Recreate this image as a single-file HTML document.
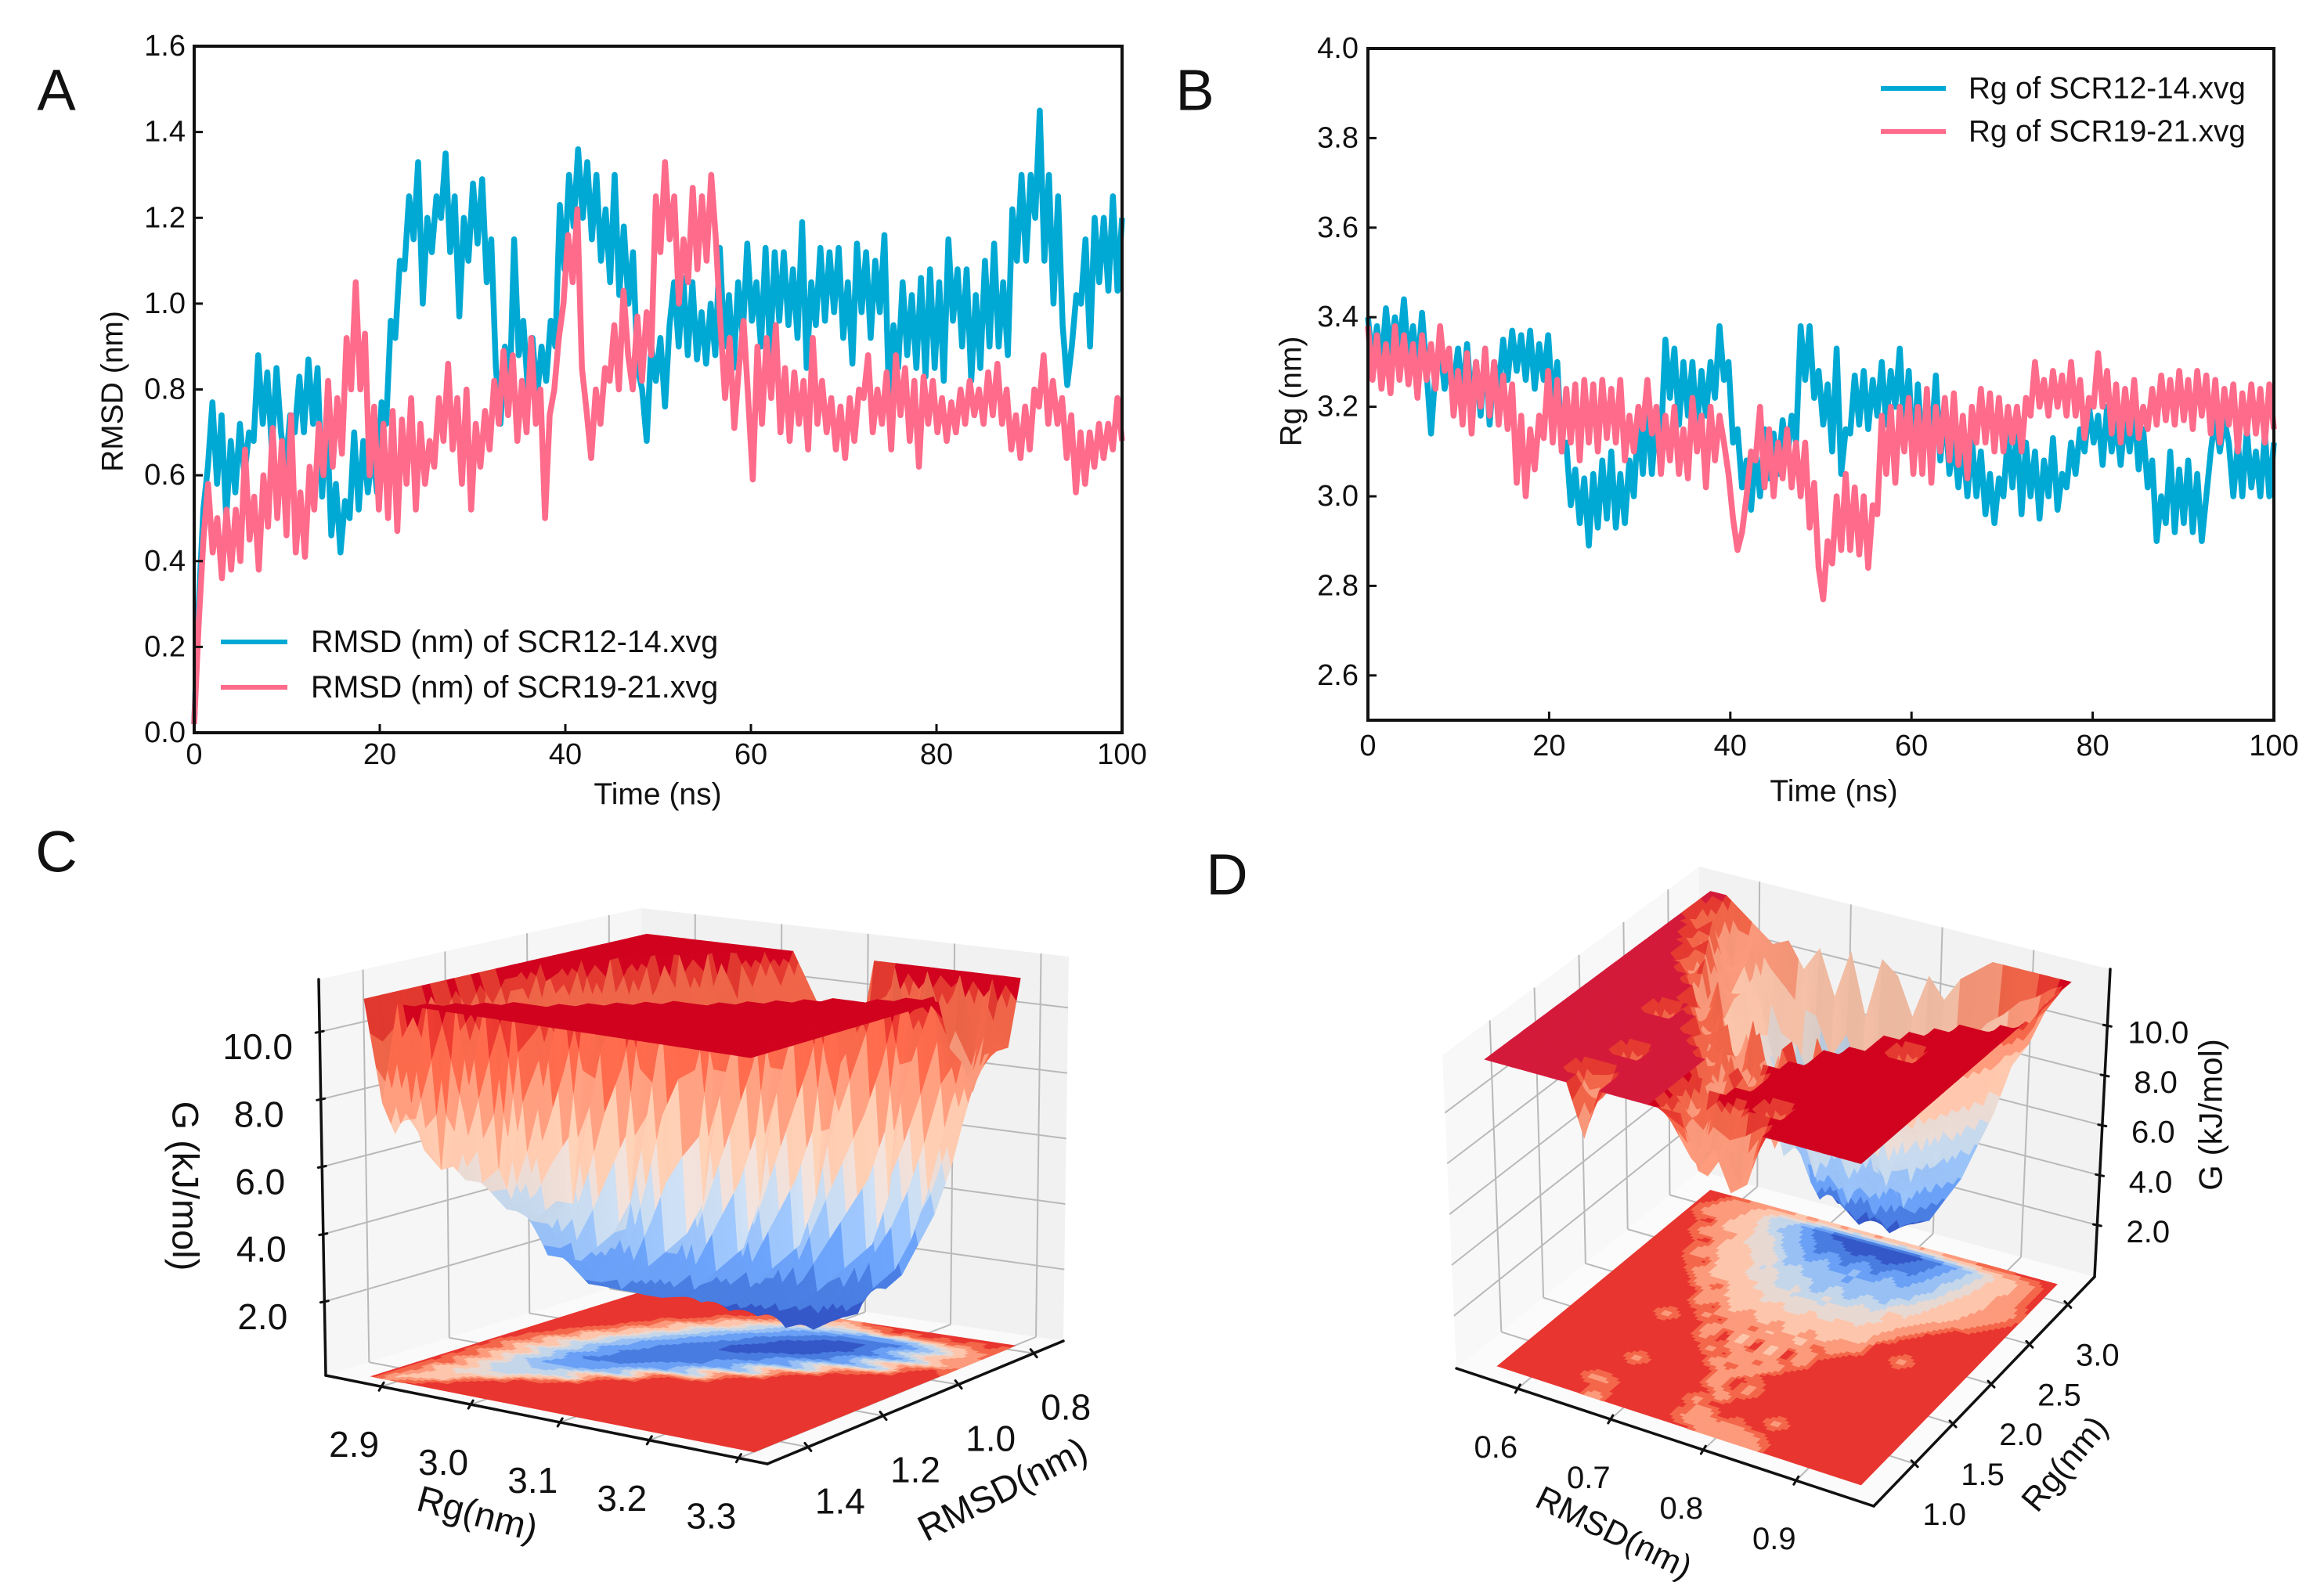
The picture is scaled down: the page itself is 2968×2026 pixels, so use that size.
<!DOCTYPE html>
<html lang="en">
<head>
<meta charset="utf-8">
<title>RMSD, Rg and free energy landscapes</title>
<style>
html,body{margin:0;padding:0;background:#fff;width:2968px;height:2026px;overflow:hidden}
svg{display:block}
text{font-family:"Liberation Sans",Arial,sans-serif;fill:#111}
</style>
</head>
<body>
<svg id="fig" xmlns="http://www.w3.org/2000/svg" width="2968" height="2026" viewBox="0 0 2968 2026">
<rect x="0" y="0" width="2968" height="2026" fill="#fff"/>
<text x="72" y="115" font-size="74" text-anchor="middle" dominant-baseline="central">A</text>
<text x="1526" y="115" font-size="74" text-anchor="middle" dominant-baseline="central">B</text>
<text x="72" y="1088" font-size="74" text-anchor="middle" dominant-baseline="central">C</text>
<text x="1567" y="1117" font-size="74" text-anchor="middle" dominant-baseline="central">D</text>

<g id="chartA"></g>
<g id="chartB"></g>
<g id="chartC"></g>
<g id="chartD"></g>

<text x="840" y="1015" font-size="39" text-anchor="middle" dominant-baseline="central">Time (ns)</text>
<text transform="translate(144 500) rotate(-90)" font-size="39" text-anchor="middle" dominant-baseline="central">RMSD (nm)</text>
<text x="2342" y="1011" font-size="39" text-anchor="middle" dominant-baseline="central">Time (ns)</text>
<text transform="translate(1649 500) rotate(-90)" font-size="39" text-anchor="middle" dominant-baseline="central">Rg (nm)</text>

<line x1="282" y1="820" x2="367" y2="820" stroke="#00a9d4" stroke-width="6"/>
<text x="397" y="820" font-size="39.5" dominant-baseline="central">RMSD (nm) of SCR12-14.xvg</text>
<line x1="282" y1="878" x2="367" y2="878" stroke="#ff6b8a" stroke-width="6"/>
<text x="397" y="878" font-size="39.5" dominant-baseline="central">RMSD (nm) of SCR19-21.xvg</text>
<line x1="2402" y1="113" x2="2485" y2="113" stroke="#00a9d4" stroke-width="6"/>
<text x="2514" y="113" font-size="38.6" dominant-baseline="central">Rg of SCR12-14.xvg</text>
<line x1="2402" y1="168" x2="2485" y2="168" stroke="#ff6b8a" stroke-width="6"/>
<text x="2514" y="168" font-size="38.6" dominant-baseline="central">Rg of SCR19-21.xvg</text>

<text transform="translate(237 1515) rotate(90)" font-size="47" text-anchor="middle" dominant-baseline="central">G (kJ/mol)</text>
<text transform="translate(610 1933) rotate(15)" font-size="47" text-anchor="middle" dominant-baseline="central">Rg(nm)</text>
<text transform="translate(1280 1902) rotate(-27)" font-size="47" text-anchor="middle" dominant-baseline="central">RMSD(nm)</text>
<text transform="translate(2823 1424) rotate(-90)" font-size="42" text-anchor="middle" dominant-baseline="central">G (kJ/mol)</text>
<text transform="translate(2061 1958) rotate(26)" font-size="43" text-anchor="middle" dominant-baseline="central">RMSD(nm)</text>
<text transform="translate(2637 1870) rotate(-50)" font-size="43" text-anchor="middle" dominant-baseline="central">Rg(nm)</text>
</svg>

<script>
// ---------- panel A values ----------
const xTickLabels=[0,20,40,60,80,100];
const rmsdTickLabels=[0,0.2,0.4,0.6,0.8,1.0,1.2,1.4,1.6];
const rgTickLabels=[2.6,2.8,3.0,3.2,3.4,3.6,3.8,4.0];
const rmsdScr12=[.02,.30,.52,.62,.77,.58,.74,.50,.68,.56,.72,.60,.70,.68,.88,.72,.84,.66,.85,.70,.62,
.74,.70,.83,.70,.87,.72,.85,.55,.74,.46,.58,.42,.54,.50,.70,.52,.68,.56,.66,.56,
.77,.72,.96,.92,1.10,1.08,1.25,1.15,1.33,1.00,1.20,1.12,1.25,1.20,1.35,1.12,1.25,.97,1.20,1.10,
1.28,1.14,1.29,1.05,1.15,.85,.72,.90,.78,1.15,.88,.96,.80,.92,.78,.90,.82,.96,.90,1.23,
1.08,1.30,1.18,1.36,1.20,1.33,1.15,1.30,1.10,1.22,1.05,1.30,1.02,1.18,1.00,1.12,.85,.80,.68,.90,
.82,.92,.76,.95,1.05,.90,1.06,.88,1.05,.87,.98,.86,1.00,.88,1.13,.90,1.02,.85,1.05,.92,
1.14,.96,1.05,.90,1.13,.88,1.12,.96,1.12,.95,1.08,.92,1.19,.85,1.05,.95,1.13,.96,1.12,.98,
1.13,.92,1.05,.86,1.14,.98,1.12,.92,1.10,.98,1.16,.78,.95,.85,1.05,.88,1.02,.85,1.06,.83,
1.08,.85,1.05,.82,1.15,.96,1.08,.90,1.08,.82,1.02,.85,1.10,.90,1.14,.90,1.05,.88,1.22,1.10,
1.30,1.10,1.30,1.20,1.45,1.10,1.30,1.00,1.25,.95,.81,.90,1.02,1.00,1.15,.90,1.20,1.05,1.20,1.03,1.25,1.03,1.20];
const rmsdScr19=[.02,.26,.45,.58,.42,.50,.36,.52,.38,.52,.40,.66,.45,.55,.38,.60,.48,.71,.50,.68,.46,
.74,.42,.56,.41,.62,.52,.72,.60,.82,.62,.78,.65,.92,.80,1.05,.80,.93,.60,.76,.52,
.72,.50,.75,.47,.73,.58,.78,.52,.72,.58,.68,.62,.78,.68,.86,.66,.78,.58,.80,.52,
.72,.62,.75,.66,.82,.72,.89,.74,.88,.68,.82,.70,.92,.72,.80,.50,.74,.80,.92,1.00,
1.16,1.05,1.22,.85,.75,.64,.80,.72,.85,.82,.95,.80,1.03,.88,.80,.97,.82,.98,.88,1.25,
1.12,1.33,1.15,1.25,1.00,1.15,1.05,1.27,1.08,1.25,1.10,1.30,1.15,.95,.78,.92,.71,.85,.96,.78,
.59,.90,.72,.92,.78,.95,.70,.85,.68,.84,.72,.82,.66,.92,.72,.82,.70,.78,.66,.76,
.64,.78,.68,.80,.78,.88,.70,.80,.72,.84,.66,.88,.74,.85,.68,.82,.62,.83,.72,.82,
.70,.78,.68,.77,.70,.80,.72,.82,.74,.80,.72,.84,.74,.86,.72,.80,.66,.74,.64,.76,
.66,.80,.76,.88,.72,.82,.72,.78,.64,.74,.56,.70,.58,.70,.62,.72,.64,.72,.66,.78,.68];
// ---------- panel B values ----------
const rgScr12=[3.40,3.30,3.38,3.29,3.42,3.32,3.40,3.33,3.44,3.30,3.38,3.28,3.41,3.28,3.14,3.28,3.34,3.24,3.30,3.25,3.33,
3.22,3.34,3.20,3.30,3.18,3.33,3.16,3.30,3.24,3.35,3.26,3.37,3.28,3.36,3.26,3.37,3.24,3.34,3.26,3.36,
3.20,3.30,3.10,3.12,2.98,3.06,2.94,3.04,2.89,3.05,2.93,3.08,2.95,3.10,2.93,3.05,2.94,3.08,3.00,3.18,
3.05,3.20,3.05,3.18,3.12,3.35,3.22,3.33,3.16,3.30,3.18,3.30,3.15,3.28,3.18,3.30,3.22,3.38,3.26,3.30,
3.12,3.15,3.02,3.08,2.97,3.10,3.00,3.15,3.04,3.14,3.05,3.17,3.08,3.18,3.12,3.38,3.26,3.38,3.22,3.28,
3.16,3.25,3.10,3.33,3.05,3.15,3.14,3.27,3.16,3.28,3.15,3.26,3.18,3.30,3.16,3.28,3.20,3.33,3.14,3.28,
3.07,3.25,3.10,3.22,3.12,3.27,3.08,3.20,3.05,3.13,3.02,3.12,3.00,3.13,3.00,3.10,2.96,3.05,2.94,3.04,
3.00,3.14,3.02,3.15,2.96,3.12,3.00,3.10,2.95,3.08,3.00,3.13,2.97,3.05,3.02,3.12,3.05,3.15,3.10,3.20,
3.12,3.18,3.07,3.20,3.10,3.17,3.07,3.18,3.10,3.20,3.06,3.15,3.02,3.08,2.90,3.00,2.94,3.10,2.92,3.06,
2.94,3.08,2.92,3.05,2.90,3.00,3.10,3.18,3.10,3.17,3.12,3.00,3.12,3.00,3.15,3.02,3.10,3.00,3.14,3.00,3.12];
const rgScr19=[3.38,3.26,3.36,3.24,3.34,3.23,3.38,3.26,3.36,3.25,3.34,3.22,3.36,3.26,3.34,3.24,3.38,3.28,3.33,3.18,3.28,
3.16,3.32,3.14,3.30,3.20,3.33,3.18,3.30,3.16,3.27,3.15,3.25,3.03,3.18,3.00,3.15,3.06,3.18,3.13,3.28,
3.12,3.26,3.10,3.24,3.12,3.25,3.08,3.26,3.12,3.25,3.10,3.26,3.13,3.24,3.12,3.26,3.08,3.18,3.10,3.20,
3.15,3.26,3.14,3.20,3.05,3.18,3.08,3.20,3.05,3.15,3.04,3.22,3.10,3.18,3.02,3.20,3.08,3.18,3.12,3.05,
2.95,2.88,2.92,3.00,3.10,3.08,3.20,3.02,3.15,3.00,3.12,3.04,3.15,3.02,3.12,3.00,3.12,2.93,3.03,2.84,
2.77,2.90,2.85,3.00,2.88,3.05,2.88,3.02,2.87,3.00,2.84,2.98,2.96,3.18,3.05,3.20,3.03,3.20,3.10,3.22,
3.05,3.20,3.05,3.24,3.03,3.20,3.10,3.22,3.08,3.23,3.07,3.18,3.04,3.20,3.12,3.24,3.12,3.23,3.10,3.22,
3.10,3.20,3.12,3.20,3.10,3.22,3.18,3.30,3.20,3.26,3.18,3.28,3.20,3.27,3.18,3.30,3.18,3.26,3.13,3.22,
3.20,3.32,3.20,3.28,3.14,3.25,3.12,3.24,3.14,3.26,3.13,3.20,3.15,3.24,3.16,3.27,3.17,3.26,3.16,3.28,
3.17,3.26,3.15,3.28,3.18,3.27,3.14,3.26,3.12,3.24,3.16,3.25,3.10,3.23,3.14,3.25,3.14,3.24,3.12,3.25,3.15];

// ---------- panel C values: G(kJ/mol) rows front (high RMSD) to back, columns low Rg to high Rg ----------
const surfaceC=[
[11,8,11,11,11,11,11,11,11,11,11,11,11,11,11,11,11,11,11,11,11,11,11,11],
[11,7,8,11,11,11,11,11,11,11,11,11,11,11,11,11,11,11,11,11,11,11,11,11],
[11,8,6.5,6,11,11,11,11,11,11,11,11,11,11,11,11,11,11,11,11,11,11,11,11],
[11,9,7,6,8.5,11,11,11,11,11,11,11,11,11,11,11,11,11,11,11,11,11,11,11],
[11,7.5,6,5.5,5.5,6,11,11,11,11,11,11,11,11,11,11,11,11,11,11,11,11,11,11],
[11,10,8,6,5,5,6.5,8.5,11,11,11,11,11,11,11,11,11,11,11,11,11,11,11,11],
[11,8,6,5,4.5,4.5,4.5,5,5,11,11,11,11,11,11,11,11,11,11,11,11,11,11,11],
[11,10,8.5,6,4.5,4,4,5,7,9.5,11,11,11,11,11,11,11,11,11,11,11,11,11,11],
[11,8,6,5,4,3,3,3,3.5,4,5,11,11,11,11,11,11,11,11,11,11,11,11,11],
[11,10,8.5,6.5,5,3.5,2.5,2.5,3,4,6.5,9.5,11,11,11,11,11,11,11,11,11,11,11,11],
[11,8,6,5,4,3,2,2,2,2.5,3,3.5,4,5,11,11,11,11,11,11,11,11,11,11],
[11,10,8.5,7,5.5,4,3,1.8,1.8,2,2.5,3.5,5.5,7.5,9.5,11,11,11,11,11,11,11,11,11],
[11,10,7,5.5,4.5,3.5,2.5,2,1.6,1.6,1.8,2,2.5,3,3.5,5,11,11,11,11,11,11,11,11],
[11,11,9.5,8,6,4.5,3.5,2.5,1.8,1.5,1.6,2,2.5,3.5,5.5,7.5,9.5,11,11,11,11,11,11,11],
[11,11,10,7,6,4.5,3.5,2.5,2,1.6,1.3,1.5,1.8,2,2.5,3,3.5,5,11,11,11,11,11,11],
[11,11,11,9.5,8,6,4.5,3.5,2.5,1.8,1.3,1,1.2,1.6,2.5,3.5,5,6.5,8,9.5,11,11,11,11],
[11,11,11,11,8,6.5,5,4,3,2.5,1.5,1,.8,1,1.2,1.5,2,2.5,3,3.5,5,11,11,11],
[11,11,11,11,10,8.5,7,5,4,3,2.5,1.5,1,.4,.6,1,1.8,3,5,6.5,8,9.5,11,9.5],
[11,11,11,11,11,8,6.5,5.5,4.5,3.5,2.5,2,1.2,.8,.3,.6,1,1.5,2,2.5,3.5,5,7,9],
[11,11,11,11,11,11,9.5,8,6.5,5,4,3,2.2,1.6,1,.6,.8,2,3.5,5,6,7.5,9,8],
[11,11,11,11,11,11,11,8,6.5,5.5,4.5,3.5,2.8,2.4,2,1.6,1.5,1.5,2,3,4,5.5,7.5,9],
[11,11,11,11,11,11,11,11,10,8.5,7,6,5,4.5,4,3.5,3.5,3.5,4,5,6,7,8.5,9],
[11,11,11,11,11,11,11,11,11,10,8.5,8,6.5,6,7,8,11,9,11,9.5,11,9,11,9],
[11,11,11,11,11,11,11,11,11,11,10,9,8.5,8,11,11,11,11,11,11,11,11,11,11]];
const rgTicksC=[2.9,3.0,3.1,3.2,3.3];
const rmsdTicksC=[0.8,1.0,1.2,1.4];
const gTicksC=[2,4,6,8,10];
const gBandEdgesC=[1.2,2.2,3.3,4.2,5.2,6,7.5,8.8,10.3,10.7];

// ---------- panel D values: rows front (low Rg) to back, columns low RMSD to high RMSD ----------
const surfaceD=[
[12,12,12,12,12,12,10,12,12,12,12,12,12,10,11,9.5,10,12,12,12,12,12,12,12],
[12,12,12,12,12,12,11,12,12,12,12,11,10,9.5,10.5,9.5,11,12,12,12,12,12,12,12],
[12,12,12,12,12,10.5,11,12,12,12,12,11.5,10,12,11,12,12,12,12,12,12,12,12,12],
[12,12,12,12,12,12,12,12,12,12,12,10.5,12,12,12,12,10.5,12,12,12,12,12,12,12],
[12,12,12,12,12,12,12,12,12,12,12,12,10,12,12,12,12,12,12,12,12,12,12,12],
[12,12,12,12,12,12,10.5,12,12,12,12,9.5,12,10.5,12,12,12,12,12,12,12,12,12,12],
[12,12,12,12,12,12,12,12,12,12,12,9.5,12,11,12,12,12,12,12,12,12,12,12,12],
[12,12,12,12,12,12,12,12,12,12,10,12,9.5,12,12,12,12,12,12,12,12,12,12,12],
[12,12,12,12,12,12,12,12,12,10.5,12,9,12,9.5,12,12,12,12,12,12,12,12,12,12],
[12,12,12,12,12,12,12,12,10.5,12,9.5,12,9,12,10.5,12,12,12,12,12,12,12,12,12],
[12,12,12,12,12,10.5,12,12,10,12,8.5,12,9,12,9.5,12,12,12,12,12,12,12,12,12],
[12,12,12,12,12,12,12,10.5,12,9,12,9,11,8.5,12,10.5,12,12,12,12,12,12,12,12],
[12,12,12,12,12,12,10.5,12,9,11,8.5,10.5,8,10.5,8.5,10.5,10,12,12,10.5,12,12,12,12],
[12,12,12,12,12,12,9.5,10,8,9,7.5,8.5,7.5,8.5,7.5,8.5,9,12,12,12,12,12,12,12],
[12,12,12,12,12,10,12,8,9,7,8,6.5,8,7,8,7.5,9,10,12,12,12,12,12,12],
[12,12,12,12,10.5,9.5,8.5,9,7,7.5,6,7,6,7,6.5,7,7.5,9.5,10.5,12,12,12,12,12],
[12,12,12,11,12,8,9,6.5,7.5,5,6.5,4.5,6.5,5,6.5,6,8,7.5,9.5,10.5,12,12,12,12],
[12,12,12,10.5,9.5,8,8.5,6,6.5,5,5.5,4,5.5,4,5.5,4.5,6.5,7,8,9,10,11,12,12],
[12,12,11.5,12,9,8.5,7,7.5,4.5,5.5,3.5,4.5,3,4.5,3.5,5,4.5,6.5,7.5,8.5,9.5,10.5,11,12],
[12,12,10.5,10,9.5,7,7.5,5.5,4.5,3,4,2.5,4,2.5,4,3,4.5,5,7,8,9,10,10.5,11.5],
[12,11.5,12,9,9.5,6.5,6.5,4,3.5,2,3,1.8,3,1.8,3,2.5,3.5,5,6,7.5,9,10,11,12],
[12,10.5,10,9.5,8,6.5,4.5,4,2.5,2,1.5,1,1.5,1,1.5,2,3,4,5.5,7,9,9.5,11,12],
[12,11.5,9.5,10,8,5.5,5.5,3,2,1.2,1.2,1,.8,1,1.2,1.5,2.5,3.5,5,6.5,8.5,9.5,11,12],
[12,12,11.5,11,10.5,10.8,9.8,10.8,9,11,8.5,11,10.5,9,10.8,10,11,11.5,12,12,12,12,12,12]];
const rmsdTicksD=[0.6,0.7,0.8,0.9];
const rgTicksD=[1.0,1.5,2.0,2.5,3.0];
const gTicksD=[2,4,6,8,10];
const gBandEdgesD=[1.5,2.5,3.5,5,6.2,7.5,9.5,11,11.6,11.9];

const bandColors=['#3558c8','#4a7de0','#6aa0f5','#98c0f5','#c4d6ea','#e8d8d2','#fdc6ac','#fc9a7c','#f4674a','#e63a30'];
const surfaceTopColor='#d1031f';
const floorTopColor='#e8352f';

// ---------- helpers ----------
const NS='http://www.w3.org/2000/svg';
function mk(parent,tag){const e=document.createElementNS(NS,tag);parent.appendChild(e);return e;}
function put(e,props){for(const k in props)e.setAttribute(k,props[k]);return e;}

// ---------- 2D charts ----------
function lineChart(host,box,xTicks,yTicks,yDec,domainY,seriesList){
  const X=v=>box.x0+(v/100)*(box.x1-box.x0);
  const Y=v=>box.y1-((v-domainY[0])/(domainY[1]-domainY[0]))*(box.y1-box.y0);
  const plot=mk(host,'g');
  
  
  seriesList.forEach(sr=>{
    const p=mk(plot,'polyline');
    
    
    const n=sr.values.length;
    put(p,{points:sr.values.map((v,i)=>X(i*100/(n-1)).toFixed(1)+','+Y(v).toFixed(1)).join(' '),fill:'none',stroke:sr.color,'stroke-width':7.5,'stroke-linejoin':'round'});
  });
  const f=mk(host,'rect');
  
  
  put(f,{x:box.x0,y:box.y0,width:box.x1-box.x0,height:box.y1-box.y0,fill:'none',stroke:'#111','stroke-width':4});
  xTicks.forEach(v=>{
    const t=mk(host,'line');
    
    
    put(t,{x1:X(v),x2:X(v),y1:box.y1,y2:box.y1-11,stroke:'#111','stroke-width':3});
    const l=mk(host,'text');
    
    
    put(l,{x:X(v),y:box.xLabelY,'font-size':38,'text-anchor':'middle','dominant-baseline':'central'});
    l.textContent=String(v);
  });
  yTicks.forEach(v=>{
    const t=mk(host,'line');
    
    
    put(t,{x1:box.x0,x2:box.x0+11,y1:Y(v),y2:Y(v),stroke:'#111','stroke-width':3});
    const l=mk(host,'text');
    
    
    put(l,{x:box.yLabelX,y:Y(v),'font-size':38,'text-anchor':'end','dominant-baseline':'central'});
    l.textContent=v.toFixed(yDec);
  });
}
lineChart(document.getElementById('chartA'),{x0:248,x1:1433,y0:59,y1:936,xLabelY:964,yLabelX:237},xTickLabels,rmsdTickLabels,1,[0,1.6],[
  {name:'series-rmsd-scr12-14',values:rmsdScr12,color:'#00a9d4'},
  {name:'series-rmsd-scr19-21',values:rmsdScr19,color:'#ff6b8a'}]);
lineChart(document.getElementById('chartB'),{x0:1747,x1:2904,y0:62,y1:920,xLabelY:953,yLabelX:1735},xTickLabels,rgTickLabels.concat([]),1,[2.5,4.0],[
  {name:'series-rg-scr12-14',values:rgScr12,color:'#00a9d4'},
  {name:'series-rg-scr19-21',values:rgScr19,color:'#ff6b8a'}]);

// ---------- 3D charts ----------
function surface3d(host,cfg,G){
  const lerp=(a,b,t)=>[a[0]+(b[0]-a[0])*t,a[1]+(b[1]-a[1])*t];
  const box=cfg.box;
  function proj(t,s,f){
    const b=lerp(lerp(box.Lb,box.Bb,t),lerp(box.Kb,box.Rb,t),s);
    const u=lerp(lerp(box.Lt,box.Bt,t),lerp(box.Kt,box.Rt,t),s);
    return lerp(b,u,f);
  }
  const tOf=x=>(x-cfg.xDom[0])/(cfg.xDom[1]-cfg.xDom[0]);
  const sOf=y=>(y-cfg.yDom[0])/(cfg.yDom[1]-cfg.yDom[0]);
  const fOf=g=>(g-cfg.zDom[0])/(cfg.zDom[1]-cfg.zDom[0]);
  const rows=G.length,cols=G[0].length;
  const val=(fi,fj)=>{
    const i=Math.min(Math.floor(fi),cols-2),j=Math.min(Math.floor(fj),rows-2),a=fi-i,b=fj-j;
    return (G[j][i]*(1-a)+G[j][i+1]*a)*(1-b)+(G[j+1][i]*(1-a)+G[j+1][i+1]*a)*b;
  };
  const gx=fi=>tOf(cfg.xData[0]+(fi/(cols-1))*(cfg.xData[1]-cfg.xData[0]));
  const gy=fj=>sOf(cfg.yData[0]+(fj/(rows-1))*(cfg.yData[1]-cfg.yData[0]));
  const band=g=>{let k=0;while(k<cfg.edges.length&&g>=cfg.edges[k])k++;return k;};
  const pts=a=>a.map(p=>p[0].toFixed(1)+','+p[1].toFixed(1)).join(' ');
  const shadeHex=(hex,m)=>{
    const n=parseInt(hex.slice(1),16);
    const c=[n>>16,(n>>8)&255,n&255].map(v=>Math.max(0,Math.min(255,Math.round(v*m))));
    return 'rgb('+c.join(',')+')';
  };
  // panes
  const panes=mk(host,'g');
  
  
  [[cfg.paneLeft,[box.Lb,box.Kb,box.Kt,box.Lt]],[cfg.paneBack,[box.Kb,box.Rb,box.Rt,box.Kt]],[cfg.paneFloor,[box.Lb,box.Bb,box.Rb,box.Kb]]].forEach(pp=>{
    const q=mk(panes,'polygon');
    
    
    put(q,{points:pts(pp[1]),fill:pp[0]});
  });
  const gridLine=(a,b)=>{
    const l=mk(panes,'line');
    
    
    put(l,{x1:a[0],y1:a[1],x2:b[0],y2:b[1],stroke:'#b9b9b9','stroke-width':2});
  };
  cfg.xTicks.forEach(v=>{const t=tOf(v);gridLine(proj(t,0,0),proj(t,1,0));gridLine(proj(t,1,0),proj(t,1,1));});
  cfg.yTicks.forEach(v=>{const s=sOf(v);gridLine(proj(0,s,0),proj(1,s,0));gridLine(proj(0,s,0),proj(0,s,1));});
  cfg.zTicks.forEach(v=>{const f=fOf(v);gridLine(proj(0,0,f),proj(0,1,f));gridLine(proj(0,1,f),proj(1,1,f));});
  // floor contours
  const floor=mk(host,'g');
  
  
  const lastCol=cols-1,lastRow=rows-1;
  const base=mk(floor,'polygon');
  
  
  put(base,{points:pts([proj(gx(0),gy(0),0),proj(gx(lastCol),gy(0),0),proj(gx(lastCol),gy(lastRow),0),proj(gx(0),gy(lastRow),0)]),fill:floorTopColor});
  const FS=4;
  for(let j=0;j<lastRow*FS;j++)for(let i=0;i<lastCol*FS;i++){
    const a=i/FS,b=j/FS,c=(i+1)/FS,d=(j+1)/FS;
    const g=val((a+c)/2,(b+d)/2),k=band(g);
    if(k>=cfg.edges.length-1)continue;
    const q=mk(floor,'polygon');
    
    
    const col=bandColors[k];
    put(q,{points:pts([proj(gx(a),gy(b),0),proj(gx(c),gy(b),0),proj(gx(c),gy(d),0),proj(gx(a),gy(d),0)]),fill:col,stroke:col,'stroke-width':.8});
  }
  // surface, far cells first
  const surf=mk(host,'g');
  
  
  const SS=3;
  for(let j=lastRow*SS-1;j>=0;j--)for(let i=0;i<lastCol*SS;i++){
    const a=i/SS,b=j/SS,c=(i+1)/SS,d=(j+1)/SS;
    const g00=val(a,b),g10=val(c,b),g11=val(c,d),g01=val(a,d);
    const g=(g00+g10+g11+g01)/4,k=band(g);
    const slope=((g10+g11)-(g00+g01))-((g01+g11)-(g00+g10));
    const m=1+Math.max(-1,Math.min(1,slope/7))*.07;
    const top=(cfg.topSplit&&a<cfg.topSplit)?cfg.topLeftColor:surfaceTopColor;
    const col=k>=cfg.edges.length?top:shadeHex(bandColors[k],m);
    const q=mk(surf,'polygon');
    
    
    put(q,{points:pts([proj(gx(a),gy(b),fOf(g00)),proj(gx(c),gy(b),fOf(g10)),proj(gx(c),gy(d),fOf(g11)),proj(gx(a),gy(d),fOf(g01))]),fill:col,stroke:col,'stroke-width':.7});
  }
  // axes
  const axes=mk(host,'g');
  
  
  const axisLine=(a,b,w)=>{
    const l=mk(axes,'line');
    
    
    put(l,{x1:a[0],y1:a[1],x2:b[0],y2:b[1],stroke:'#111','stroke-width':w,'stroke-linecap':'round'});
  };
  axisLine(box.Lb,box.Bb,3.5);axisLine(box.Bb,box.Rb,3.5);
  axisLine(cfg.zAxis==='L'?box.Lb:box.Rb,cfg.zAxis==='L'?box.Lt:box.Rt,3.5);
  const label=(p,off,txt,fs)=>{
    const l=mk(axes,'text');
    
    
    put(l,{x:p[0]+off[0],y:p[1]+off[1],'font-size':fs,'text-anchor':'middle','dominant-baseline':'central'});
    l.textContent=txt;
  };
  const tick=(p,dx,dy)=>{axisLine([p[0]-dx,p[1]-dy],[p[0]+dx,p[1]+dy],3);};
  cfg.xTicks.forEach(v=>{const p=proj(tOf(v),0,0);tick(p,cfg.xTickVec[0],cfg.xTickVec[1]);label(p,cfg.xOff,v.toFixed(1),cfg.fs);});
  cfg.yTicks.forEach(v=>{const p=proj(1,sOf(v),0);tick(p,cfg.yTickVec[0],cfg.yTickVec[1]);label(p,cfg.yOff,v.toFixed(1),cfg.fs);});
  cfg.zTicks.forEach(v=>{const f=fOf(v);const p=cfg.zAxis==='L'?proj(0,0,f):proj(1,1,f);tick(p,cfg.zTickVec[0],cfg.zTickVec[1]);label(p,cfg.zOff,v.toFixed(1),cfg.fs);});
}
surface3d(document.getElementById('chartC'),{
  box:{Lb:[416,1757],Bb:[980,1870],Rb:[1358,1713],Kb:[819,1634],Lt:[407,1251],Bt:[975,1337],Rt:[1365,1222],Kt:[819,1160]},
  xDom:[2.8377,3.3321],yDom:[1.508,0.7213],zDom:[-0.188,11.56],
  xData:[2.87,3.301],yData:[1.469,0.776],
  xTicks:rgTicksC,yTicks:rmsdTicksC,zTicks:gTicksC,edges:gBandEdgesC,
  paneLeft:'#f6f6f6',paneBack:'#f1f1f1',paneFloor:'#fafafa',zAxis:'L',
  xOff:[-35,74],yOff:[41,69],zOff:[-79,19],fs:46,
  xTickVec:[3,-5],yTickVec:[4,5],zTickVec:[5,-1]},surfaceC);
surface3d(document.getElementById('chartD'),{
  box:{Lb:[1860,1748],Bb:[2393,1924],Rb:[2675,1631],Kb:[2170,1496],Lt:[1842,1348],Bt:[2393,1501],Rt:[2695,1238],Kt:[2170,1107]},
  xDom:[0.5339,0.9837],yDom:[0.467,3.349],zDom:[-0.074,12.27],
  xData:[0.563,0.9568],yData:[0.626,3.176],
  xTicks:rmsdTicksD,yTicks:rgTicksD,zTicks:gTicksD,edges:gBandEdgesD,
  topSplit:10,topLeftColor:'#d41a3a',
  paneLeft:'#f8f8f8',paneBack:'#f2f2f2',paneFloor:'#fbfbfb',zAxis:'R',
  xOff:[-28,75],yOff:[38,65],zOff:[65,9],fs:40,
  xTickVec:[3,-5],yTickVec:[4,4],zTickVec:[5,1]},surfaceD);
</script>
</body>
</html>
